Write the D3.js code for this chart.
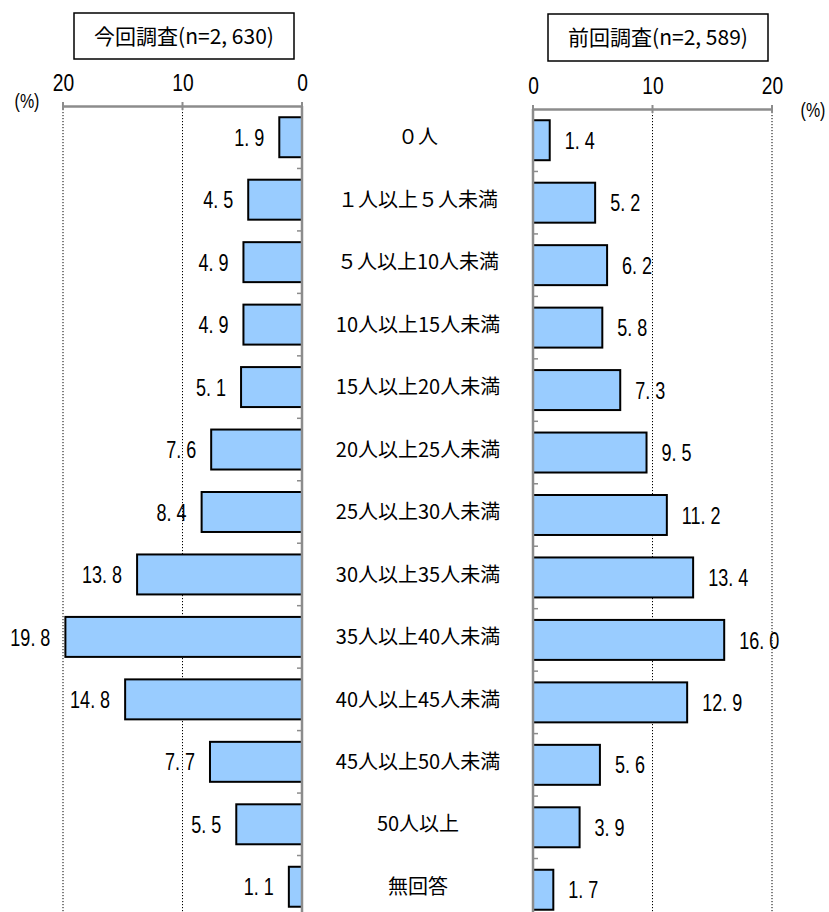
<!DOCTYPE html>
<html>
<head>
<meta charset="utf-8">
<script src="https://cdn.jsdelivr.net/npm/d3@7"></script>
<style>
  html, body { margin: 0; padding: 0; background: #fff; }
  svg { display: block; }
</style>
</head>
<body>
<script>
// Class-size categories (students per class)
const categories = [
  "０人", "１人以上５人未満", "５人以上10人未満", "10人以上15人未満",
  "15人以上20人未満", "20人以上25人未満", "25人以上30人未満", "30人以上35人未満",
  "35人以上40人未満", "40人以上45人未満", "45人以上50人未満", "50人以上", "無回答"
];
// Share of respondents (%)
const currentValues = [1.9, 4.5, 4.9, 4.9, 5.1, 7.6, 8.4, 13.8, 19.8, 14.8, 7.7, 5.5, 1.1];
const previousValues = [1.4, 5.2, 6.2, 5.8, 7.3, 9.5, 11.2, 13.4, 16.0, 12.9, 5.6, 3.9, 1.7];
const tickValues = [0, 10, 20];
const currentTitle = "今回調査(n=2, 630)";
const previousTitle = "前回調査(n=2, 589)";
const unitLabel = "(%)";

const W = 829, H = 912;
const jpFont = "'Noto Sans CJK JP', 'Noto Sans', sans-serif";
const numFont = "'Liberation Sans', Arial, sans-serif";
const fillColor = "#99ccff";
const axisColor = "#8c8c8c";

const svg = d3.select("body").append("svg")
  .attr("width", W).attr("height", H);

const fmt = v => d3.format(".1f")(v).replace(".", ". ");

function numText(sel, size) {
  return sel.attr("font-family", numFont).attr("font-size", size).attr("fill", "#000");
}

function drawPanel(opts) {
  const { values, x, top, title, box, side } = opts;
  const n = categories.length;
  const step = 62.46;
  const y = d3.scaleBand().domain(categories)
    .range([top, top + step * n])
    .paddingInner(0.36).paddingOuter(0.18);
  const g = svg.append("g");
  const x0 = x(0);
  const bottom = top + step * n;
  const dir = side === "left" ? -1 : 1;

  // dotted gridlines
  g.selectAll(".grid").data(tickValues.filter(d => d > 0)).join("line")
    .attr("x1", d => x(d)).attr("x2", d => x(d))
    .attr("y1", top).attr("y2", bottom)
    .attr("stroke", "#000").attr("stroke-width", 1)
    .attr("stroke-dasharray", "1.2,1.8");

  // bars
  g.selectAll("rect.bar").data(values).join("rect")
    .attr("class", "bar")
    .attr("x", d => Math.min(x(0), x(d)))
    .attr("width", d => Math.abs(x(d) - x(0)))
    .attr("y", (d, i) => y(categories[i]))
    .attr("height", y.bandwidth())
    .attr("fill", fillColor)
    .attr("stroke", "#000").attr("stroke-width", 2);

  // value axis along the top (numerals condensed horizontally)
  const axis = d3.axisTop(x).tickValues(tickValues).tickSize(0).tickPadding(0);
  const ax = g.append("g").attr("transform", `translate(0,${top})`).call(axis);
  ax.select(".domain").attr("stroke", axisColor).attr("stroke-width", 2.5);
  ax.selectAll(".tick text")
    .attr("x", null).attr("y", null).attr("dy", null)
    .attr("transform", "translate(0,-15) scale(0.8,1)")
    .call(numText, 24);
  g.selectAll(".vtick").data(tickValues).join("line")
    .attr("x1", d => x(d)).attr("x2", d => x(d))
    .attr("y1", top - 4).attr("y2", top + 4)
    .attr("stroke", axisColor).attr("stroke-width", 2);

  // category axis at zero
  g.append("line")
    .attr("x1", x0).attr("x2", x0).attr("y1", top).attr("y2", bottom)
    .attr("stroke", axisColor).attr("stroke-width", 2.5);
  g.selectAll(".ctick").data(d3.range(1, n)).join("line")
    .attr("x1", x0).attr("x2", x0 + dir * 5)
    .attr("y1", i => top + i * step).attr("y2", i => top + i * step)
    .attr("stroke", axisColor).attr("stroke-width", 1.5);

  // value labels
  g.selectAll("text.val").data(values).join("text")
    .attr("class", "val")
    .attr("transform", (d, i) =>
      `translate(${x(d) + dir * 15},${y(categories[i]) + y.bandwidth() / 2}) scale(0.75,1)`)
    .attr("dy", "0.36em")
    .attr("text-anchor", side === "left" ? "end" : "start")
    .call(numText, 24)
    .text(d => fmt(d));

  // title box
  g.append("rect")
    .attr("x", box[0]).attr("y", box[1]).attr("width", box[2]).attr("height", box[3])
    .attr("fill", "#fff").attr("stroke", "#000").attr("stroke-width", 1.5);
  g.append("text")
    .attr("x", box[0] + box[2] / 2).attr("y", box[1] + box[3] / 2)
    .attr("dy", "0.36em").attr("text-anchor", "middle")
    .attr("font-family", jpFont).attr("font-size", 21).attr("fill", "#000")
    .text(title);

  return y;
}

const xLeft = d3.scaleLinear().domain([0, 20]).range([302, 63]);
const xRight = d3.scaleLinear().domain([0, 20]).range([533, 772]);

const yL = drawPanel({ values: currentValues, x: xLeft, top: 106, title: currentTitle,
  box: [74, 13, 220, 46], side: "left" });
drawPanel({ values: previousValues, x: xRight, top: 109, title: previousTitle,
  box: [548, 14, 220, 47], side: "right" });

// category labels between the panels
svg.append("g").selectAll("text").data(categories).join("text")
  .attr("x", 418)
  .attr("y", d => yL(d) + yL.bandwidth() / 2)
  .attr("dy", "0.36em")
  .attr("text-anchor", "middle")
  .attr("font-family", jpFont).attr("font-size", 20).attr("fill", "#000")
  .text(d => d);

// unit labels
[[27, 101], [813, 110]].forEach(([ux, uy]) => {
  svg.append("text")
    .attr("transform", `translate(${ux},${uy}) scale(0.8,1)`)
    .attr("dy", "0.36em").attr("text-anchor", "middle")
    .call(numText, 20)
    .text(unitLabel);
});
</script>
</body>
</html>
